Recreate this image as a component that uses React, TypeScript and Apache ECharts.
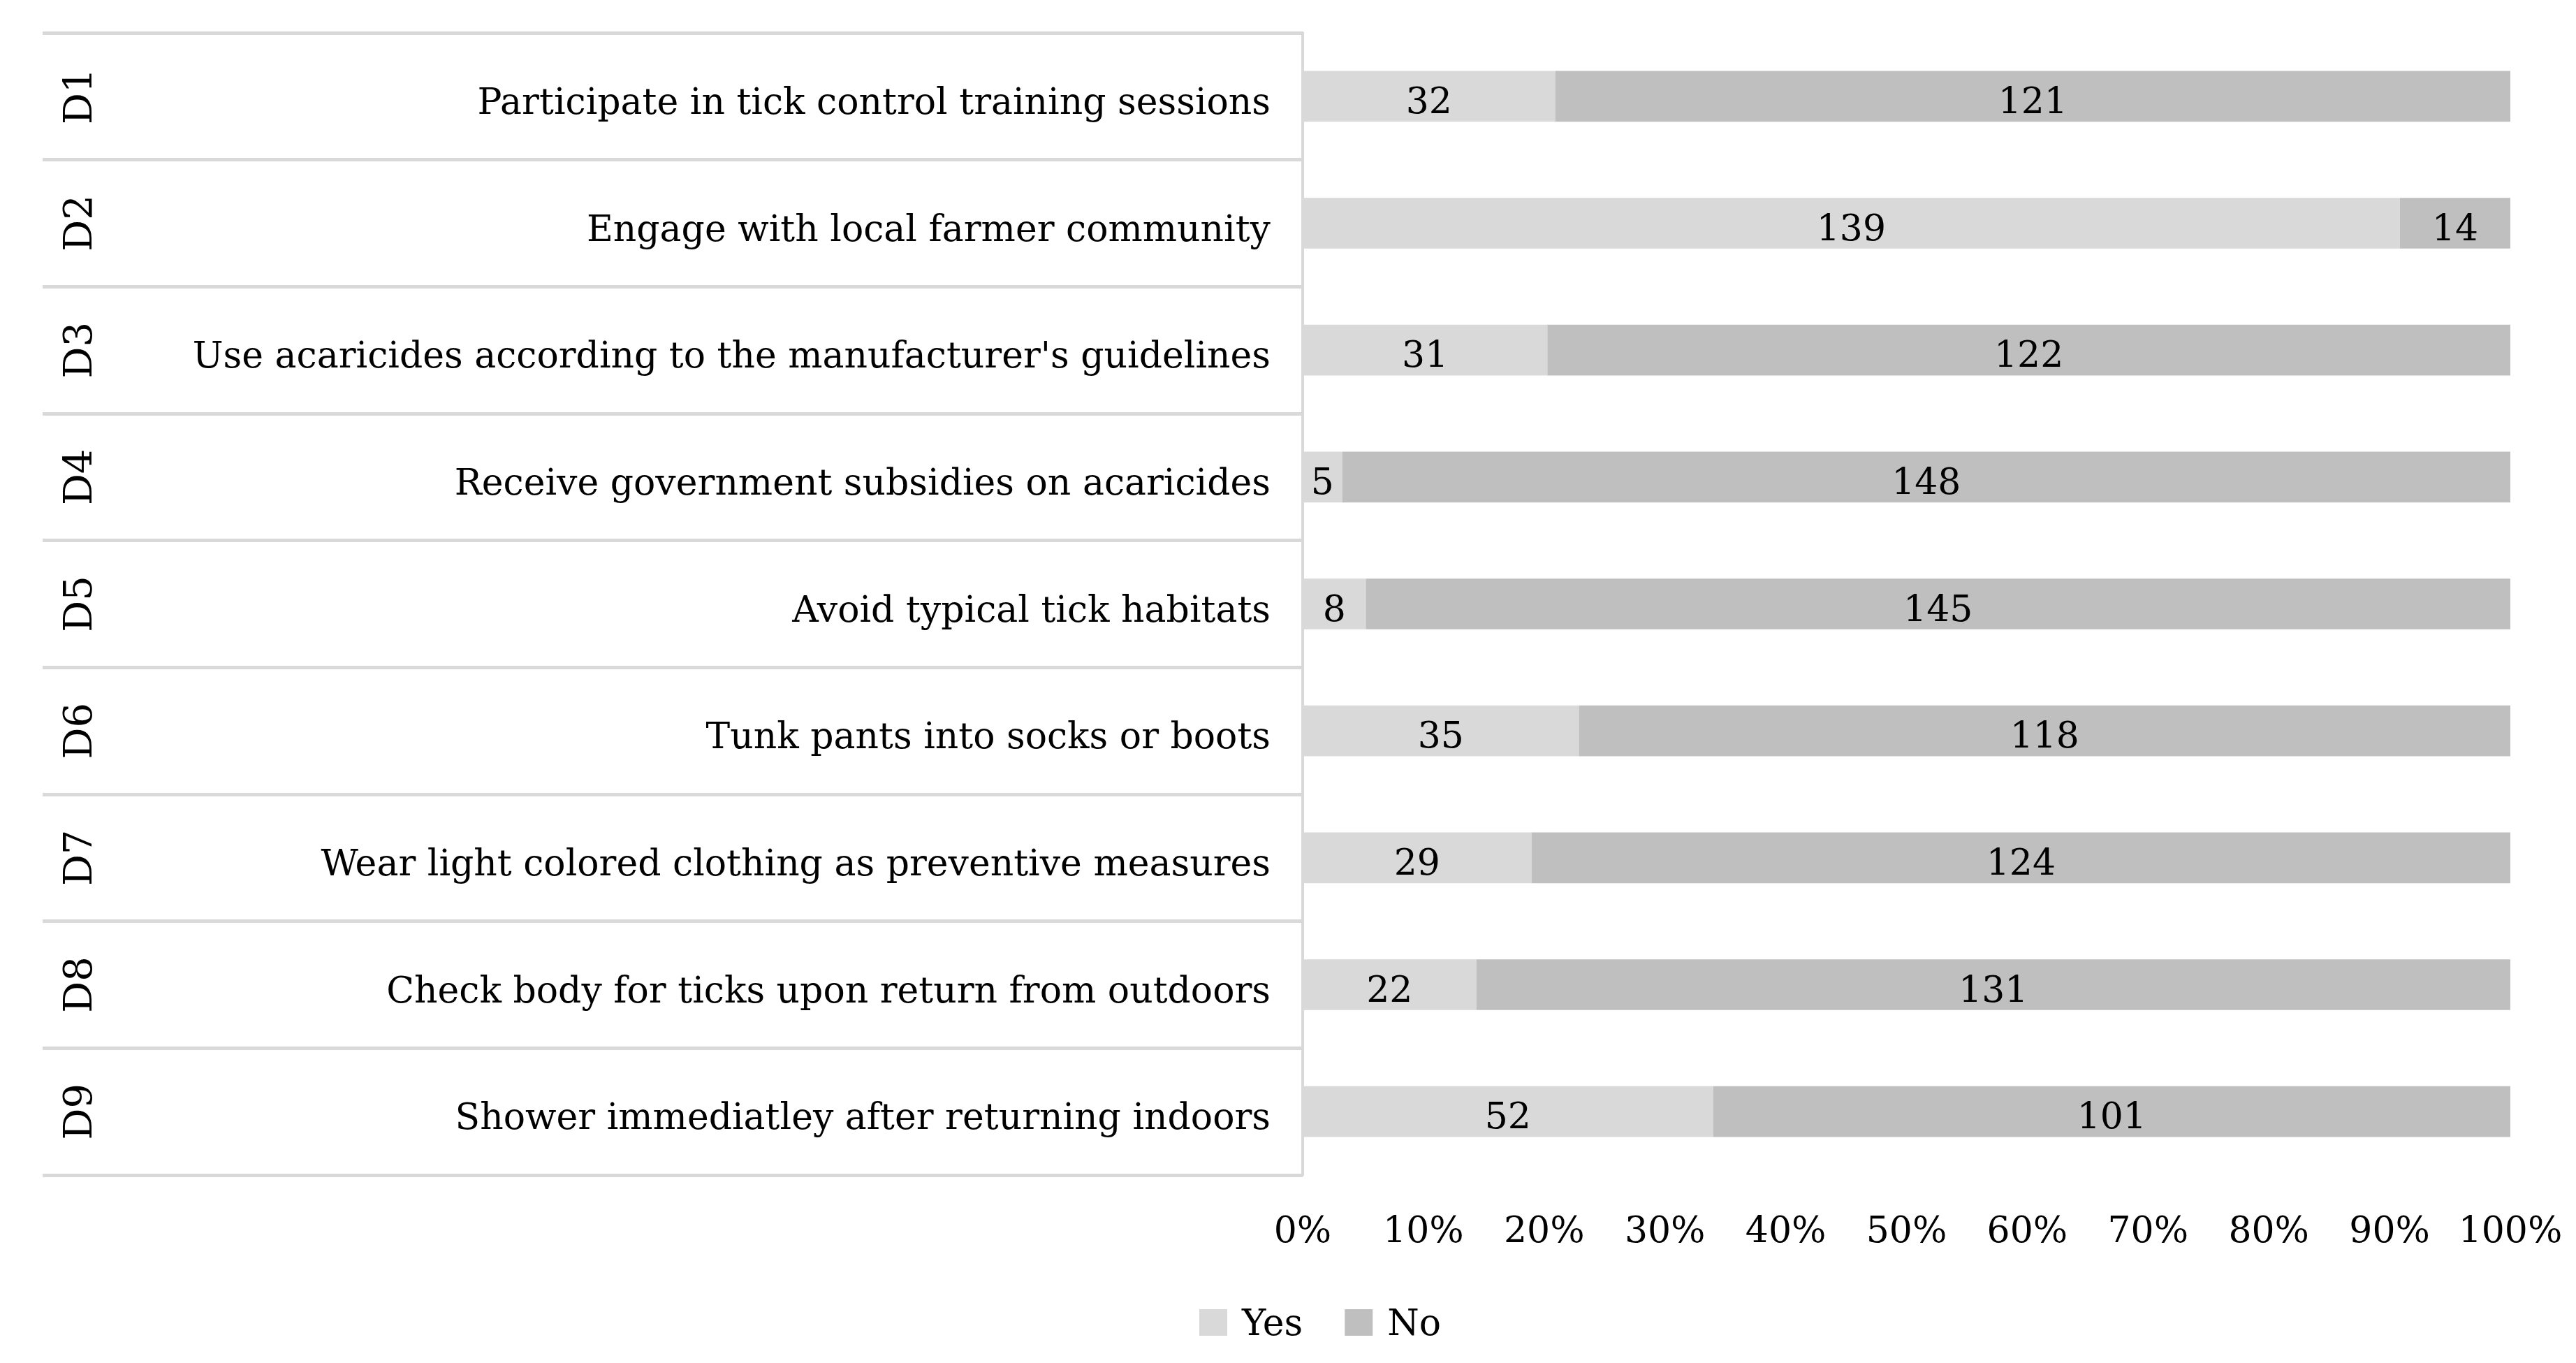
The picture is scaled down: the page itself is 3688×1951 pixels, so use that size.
import React, { useEffect, useRef } from "react";
import * as echarts from "echarts";

const codes = ["D1", "D2", "D3", "D4", "D5", "D6", "D7", "D8", "D9"];
const categories = [
  "Participate in tick control training sessions",
  "Engage with local farmer community",
  "Use acaricides according to the manufacturer's guidelines",
  "Receive government subsidies on acaricides",
  "Avoid typical tick habitats",
  "Tunk pants into socks or boots",
  "Wear light colored clothing as preventive measures",
  "Check body for ticks upon return from outdoors",
  "Shower immediatley after returning indoors",
];
const yesCounts = [32, 139, 31, 5, 8, 35, 29, 22, 52];
const noCounts = [121, 14, 122, 148, 145, 118, 124, 131, 101];
const xTicks = [0, 10, 20, 30, 40, 50, 60, 70, 80, 90, 100];

const FONT = "DejaVu Serif";
const FS = 52;

export default function App() {
  const ref = useRef<HTMLDivElement>(null);
  useEffect(() => {
    document.body.style.margin = "0";
    const chart = echarts.init(ref.current!, null, { renderer: "svg" });
    const pct = (arr: number[]) =>
      arr.map((v, i) => (v / (yesCounts[i] + noCounts[i])) * 100);
    const yesPct = pct(yesCounts);
    const noPct = pct(noCounts);
    const barLabel = (counts: number[]) => ({
      show: true,
      position: "inside",
      offset: [0, 6],
      fontFamily: FONT,
      fontSize: FS,
      color: "#000",
      formatter: (p: any) => String(counts[p.dataIndex]),
    });
    chart.setOption({
      animation: false,
      backgroundColor: "#ffffff",
      textStyle: { fontFamily: FONT },
      legend: {
        data: ["Yes", "No"],
        left: 1712,
        top: 1862,
        itemWidth: 40,
        itemHeight: 38,
        itemGap: 60,
        icon: "rect",
        textStyle: { fontFamily: FONT, fontSize: FS, color: "#000", padding: [0, 0, 0, 16] },
      },
      grid: [
        { left: 1865, right: 94, top: 47, bottom: 269, containLabel: false },
        { left: 61, width: 1804, top: 47, bottom: 269, containLabel: false },
      ],
      xAxis: [
        {
          gridIndex: 0,
          type: "value",
          min: 0,
          max: 100,
          interval: 10,
          axisLine: { show: false },
          axisTick: { show: false },
          splitLine: { show: false },
          axisLabel: {
            margin: 52,
            fontFamily: FONT,
            fontSize: FS,
            color: "#000",
            formatter: (v: number) => (xTicks.includes(v) ? v + "%" : ""),
          },
        },
        { gridIndex: 1, type: "value", show: false, min: 0, max: 1 },
      ],
      yAxis: [
        {
          gridIndex: 0,
          type: "category",
          data: categories,
          inverse: true,
          axisLine: { show: true, lineStyle: { color: "#d9d9d9", width: 4 } },
          axisTick: { show: false },
          splitLine: { show: false },
          axisLabel: {
            margin: 46,
            fontFamily: FONT,
            fontSize: FS,
            color: "#000",
            formatter: (v: string) => "{a|" + v + "}",
            rich: {
              a: {
                fontFamily: FONT,
                fontSize: FS,
                color: "#000",
                padding: [14, 0, 0, 0],
              },
            },
          },
        },
        {
          gridIndex: 1,
          type: "category",
          data: codes,
          inverse: true,
          axisLine: { show: false },
          axisTick: { show: false },
          splitLine: { show: true, lineStyle: { color: "#d9d9d9", width: 5 } },
          axisLabel: {
            inside: true,
            rotate: 90,
            margin: 22,
            fontFamily: FONT,
            fontSize: 56,
            color: "#000",
          },
        },
      ],
      series: [
        {
          name: "Yes",
          type: "bar",
          stack: "total",
          xAxisIndex: 0,
          yAxisIndex: 0,
          barCategoryGap: "60%",
          data: yesPct,
          itemStyle: { color: "#d9d9d9" },
          label: barLabel(yesCounts),
        },
        {
          name: "No",
          type: "bar",
          stack: "total",
          xAxisIndex: 0,
          yAxisIndex: 0,
          barCategoryGap: "60%",
          data: noPct,
          itemStyle: { color: "#bfbfbf" },
          label: barLabel(noCounts),
        },
      ],
    });
    return () => chart.dispose();
  }, []);
  return <div ref={ref} style={{ width: 3688, height: 1951 }} />;
}
